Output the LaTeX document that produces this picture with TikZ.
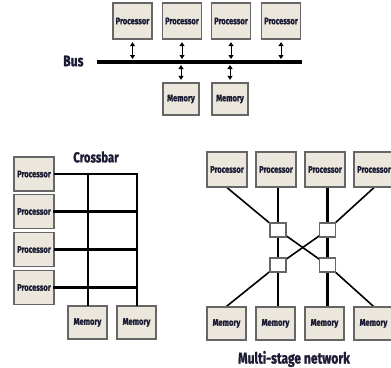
\documentclass[tikz,border=0pt]{standalone}
\usepackage{fontspec}
\setmainfont{Fira Sans}[BoldFont={Fira Sans Bold},BoldFeatures={FakeStretch=0.78,FakeBold=1.2}]
\usetikzlibrary{arrows.meta,backgrounds}
\definecolor{boxfill}{HTML}{ECE7DC}
\definecolor{boxline}{HTML}{666666}
\definecolor{ink}{HTML}{1C1C34}
\tikzset{
  unit/.style={draw=boxline, line width=1.2pt, fill=boxfill, inner sep=0pt,
    font=\bfseries\fontsize{9.6}{11}\selectfont, text=ink},
  proc/.style={unit, minimum width=39pt, minimum height=36pt},
  mem/.style={unit, minimum width=36pt, minimum height=32pt},
  xproc/.style={unit, minimum width=40pt, minimum height=34pt},
  xmem/.style={unit, minimum width=39pt, minimum height=33pt},
  switch/.style={draw=boxline, line width=1.1pt, fill=white, minimum width=16pt, minimum height=14pt, inner sep=0pt},
  title/.style={font=\bfseries\fontsize{14.5}{16}\selectfont, text=ink},
  busline/.style={line width=3.6pt, black},
  rw/.style={{Triangle[length=4pt,width=5pt]}-{Triangle[length=4pt,width=5pt]}, line width=1pt, black},
  thin bar/.style={line width=2.2pt, line cap=rect},
  thick bar/.style={line width=3.3pt, line cap=rect},
  link/.style={line width=1.6pt},
  trunk/.style={line width=2.4pt},
}
\begin{document}
\begin{tikzpicture}[x=1pt,y=-1pt]
\useasboundingbox (0,0) rectangle (391,367);
\clip (0,0) rectangle (391,367);

% ---------- shared bus ----------
\node[proc] (bp1) at (132.5,21) {Processor};
\node[proc] (bp2) at (182,21) {Processor};
\node[proc] (bp3) at (231,21) {Processor};
\node[proc] (bp4) at (281,21) {Processor};
\node[mem] (bm1) at (181,99) {Memory};
\node[mem] (bm2) at (230,99) {Memory};
\coordinate (busL) at (97,62);
\coordinate (busR) at (302,62);
\node[title, font=\bfseries\fontsize{15.5}{17}\selectfont, anchor=east] (buslabel) at (87,61) {Bus};
\draw[busline] (busL) -- (busR);
\foreach \p in {bp1,bp2,bp3,bp4}
  \draw[rw, shorten <=2.5pt, shorten >=3pt] (\p.south) -- (\p.south |- busL);
\foreach \m in {bm1,bm2}
  \draw[rw, shorten <=3pt, shorten >=2.5pt] (\m.north |- busL) -- (\m.north);

% ---------- crossbar ----------
\node[title] (xtitle) at (96,157) {Crossbar};
\node[xproc] (xp1) at (34,174) {Processor};
\node[xproc] (xp2) at (34,211.5) {Processor};
\node[xproc] (xp3) at (34,249.5) {Processor};
\node[xproc] (xp4) at (34,287.5) {Processor};
\node[xmem] (xm1) at (87.5,322.5) {Memory};
\node[xmem] (xm2) at (136.5,322.5) {Memory};
\draw[line width=2pt, line cap=rect] (xm1.north |- xp1.east) -- (xm1.north);
\draw[line width=2pt, line cap=rect] (xm2.north |- xp1.east) -- (xm2.north);
\draw[thin bar] (xp1.east) -- (xm2.north |- xp1.east);
\draw[thick bar] (xp2.east) -- (xm2.north |- xp2.east);
\draw[thin bar] (xp3.east) -- (xm2.north |- xp3.east);
\draw[thick bar] (xp4.east) -- (xm2.north |- xp4.east);

% ---------- multi-stage network ----------
\node[xproc, minimum height=35pt] (mp1) at (227,169.5) {Processor};
\node[xproc, minimum height=35pt] (mp2) at (276,169.5) {Processor};
\node[xproc, minimum height=35pt] (mp3) at (325,169.5) {Processor};
\node[xproc, minimum height=35pt] (mp4) at (374,169.5) {Processor};
\node[xmem] (mm1) at (226.5,323.5) {Memory};
\node[xmem] (mm2) at (275.5,323.5) {Memory};
\node[xmem] (mm3) at (324.5,323.5) {Memory};
\node[xmem] (mm4) at (373.5,323.5) {Memory};
\node[switch] (s1) at (278,230) {};
\node[switch] (s2) at (327.5,230) {};
\node[switch] (s3) at (278,265) {};
\node[switch] (s4) at (327.5,265) {};
\node[title, font=\bfseries\fontsize{15.5}{17}\selectfont] (mtitle) at (294,359) {Multi-stage network};
\begin{scope}[on background layer]
  \draw[link] (mp1.south) -- (s1.center);
  \draw[link] (mp4.south) -- (s2.center);
  \draw[trunk] (s1 |- mp2.south) -- (s1.center) -- (s3.center) -- (s3 |- mm2.north);
  \draw[trunk] (s2 |- mp3.south) -- (s2.center) -- (s4.center) -- (s4 |- mm3.north);
  \draw[link] (s1.center) -- (s4.center);
  \draw[link] (s2.center) -- (s3.center);
  \draw[link] (s3.center) -- (mm1.north);
  \draw[link] (s4.center) -- (mm4.north);
\end{scope}
\end{tikzpicture}
\end{document}
